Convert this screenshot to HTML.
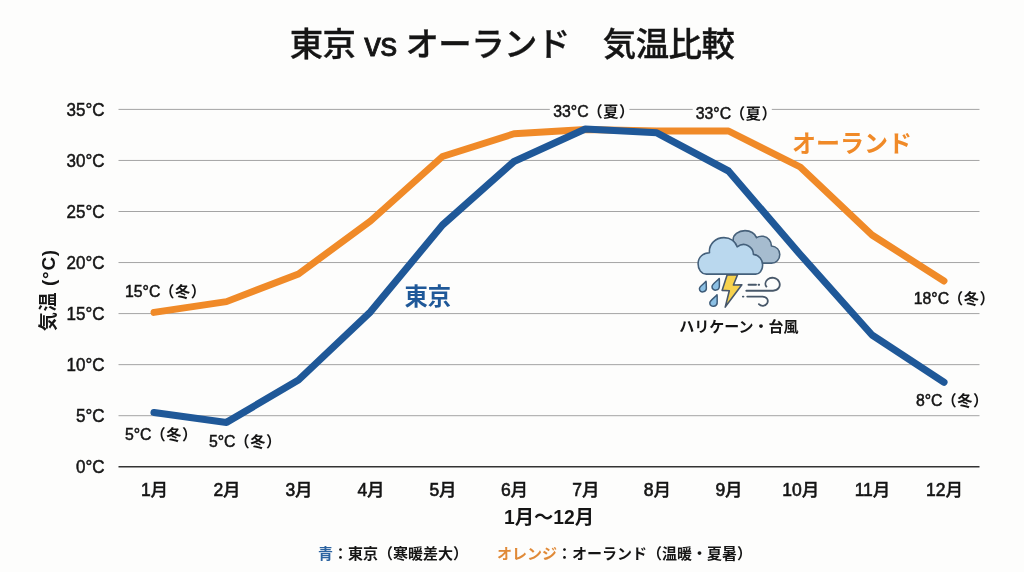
<!DOCTYPE html>
<html lang="ja"><head><meta charset="utf-8"><title>東京 vs オーランド 気温比較</title>
<style>
html,body{margin:0;padding:0;background:#fdfdfc;}
body{width:1024px;height:572px;overflow:hidden;font-family:"Liberation Sans","Noto Sans CJK JP",sans-serif;}
svg{display:block}
text{font-family:"Liberation Sans","Noto Sans CJK JP",sans-serif;fill:#151515}
.l{stroke:#151515;stroke-width:.5px}
.yl,.an{stroke:#151515;stroke-width:.15px}
.xl{stroke:#151515;stroke-width:.4px}
.xl .l{stroke-width:.6px}
.xl.b,.xl.b .l{stroke:none}
.t{font-size:33.4px;letter-spacing:-.5px;font-weight:500;stroke:#151515;stroke-width:.35px}
.t .l{stroke-width:.8px}
.yl{font-size:18.6px;font-weight:500;text-anchor:end}
.xl{font-size:17.5px;font-weight:500;text-anchor:middle}
.an{font-size:15.8px;font-weight:500}
.an .c{font-size:15.2px;font-weight:700;stroke:none;letter-spacing:.5px}
.b{font-weight:700}
.b .l{stroke:none;font-size:100%}
</style></head><body>
<svg width="1024" height="572" viewBox="0 0 1024 572">
<rect width="1024" height="572" fill="#fdfdfc"/>
<text class="t" x="512" y="56.4" text-anchor="middle">東京 <tspan class="l">vs</tspan> オーランド　気温比較</text>

<line x1="118.5" x2="979.5" y1="109.40" y2="109.40" stroke="#a4a4a4" stroke-width="1"/>
<line x1="118.5" x2="979.5" y1="160.45" y2="160.45" stroke="#a4a4a4" stroke-width="1"/>
<line x1="118.5" x2="979.5" y1="211.50" y2="211.50" stroke="#a4a4a4" stroke-width="1"/>
<line x1="118.5" x2="979.5" y1="262.55" y2="262.55" stroke="#a4a4a4" stroke-width="1"/>
<line x1="118.5" x2="979.5" y1="313.60" y2="313.60" stroke="#a4a4a4" stroke-width="1"/>
<line x1="118.5" x2="979.5" y1="364.65" y2="364.65" stroke="#a4a4a4" stroke-width="1"/>
<line x1="118.5" x2="979.5" y1="415.70" y2="415.70" stroke="#a4a4a4" stroke-width="1"/>
<line x1="118.5" x2="979.5" y1="466.75" y2="466.75" stroke="#333" stroke-width="1.3"/>
<rect x="549.8" y="100" width="79.6" height="20" fill="#fdfdfc"/>
<rect x="692.7" y="100" width="79.1" height="20" fill="#fdfdfc"/>
<text class="yl" transform="translate(104.6,116.00) scale(.915,1)"><tspan class="l">35°C</tspan></text>
<text class="yl" transform="translate(104.6,167.05) scale(.915,1)"><tspan class="l">30°C</tspan></text>
<text class="yl" transform="translate(104.6,218.10) scale(.915,1)"><tspan class="l">25°C</tspan></text>
<text class="yl" transform="translate(104.6,269.15) scale(.915,1)"><tspan class="l">20°C</tspan></text>
<text class="yl" transform="translate(104.6,320.20) scale(.915,1)"><tspan class="l">15°C</tspan></text>
<text class="yl" transform="translate(104.6,371.25) scale(.915,1)"><tspan class="l">10°C</tspan></text>
<text class="yl" transform="translate(104.6,422.30) scale(.915,1)"><tspan class="l">5°C</tspan></text>
<text class="yl" transform="translate(104.6,473.35) scale(.915,1)"><tspan class="l">0°C</tspan></text>
<text class="xl" x="154.5" y="495.7"><tspan class="l">1</tspan>月</text>
<text class="xl" x="227.0" y="495.7"><tspan class="l">2</tspan>月</text>
<text class="xl" x="299.0" y="495.7"><tspan class="l">3</tspan>月</text>
<text class="xl" x="371.0" y="495.7"><tspan class="l">4</tspan>月</text>
<text class="xl" x="443.0" y="495.7"><tspan class="l">5</tspan>月</text>
<text class="xl" x="514.5" y="495.7"><tspan class="l">6</tspan>月</text>
<text class="xl" x="585.8" y="495.7"><tspan class="l">7</tspan>月</text>
<text class="xl" x="657.3" y="495.7"><tspan class="l">8</tspan>月</text>
<text class="xl" x="729.0" y="495.7"><tspan class="l">9</tspan>月</text>
<text class="xl" x="800.7" y="495.7"><tspan class="l">10</tspan>月</text>
<text class="xl" x="872.5" y="495.7"><tspan class="l">11</tspan>月</text>
<text class="xl" x="944.5" y="495.7"><tspan class="l">12</tspan>月</text>
<text class="xl b" x="549" y="523.5" style="font-size:19.3px"><tspan class="l">1</tspan>月〜<tspan class="l">12</tspan>月</text>
<text class="b" transform="translate(54.8,290.2) rotate(-90)" text-anchor="middle" style="font-size:19px;letter-spacing:.7px">気温 (<tspan class="l">°C</tspan>)</text>
<polyline points="154,312.4 226.5,301.6 298.5,274 370.5,221 442.5,156.5 514,133.8 585.3,129.5 656.8,131 728.5,131 800.2,167 872,235 944,281" fill="none" stroke="#f08a28" stroke-width="6.9" stroke-linejoin="round" stroke-linecap="round"/>
<polyline points="154,412.5 226.5,422.4 298.5,380 370.5,311.8 442.5,225 514,161.5 585.3,129 656.8,132.8 728.5,171 800.2,254.5 872,335 944,382.2" fill="none" stroke="#1f5898" stroke-width="7.1" stroke-linejoin="round" stroke-linecap="round"/>
<text class="an" x="125" y="297"><tspan class="l">15°C</tspan><tspan class="c" dx="-1">（冬）</tspan></text>
<text class="an" x="125" y="440"><tspan class="l">5°C</tspan><tspan class="c" dx="-1">（冬）</tspan></text>
<text class="an" x="209" y="447"><tspan class="l">5°C</tspan><tspan class="c" dx="-1">（冬）</tspan></text>
<text class="an" x="553.3" y="117"><tspan class="l">33°C</tspan><tspan class="c" dx="-1">（夏）</tspan></text>
<text class="an" x="695.8" y="119"><tspan class="l">33°C</tspan><tspan class="c" dx="-1">（夏）</tspan></text>
<text class="an" x="913.8" y="304.3"><tspan class="l">18°C</tspan><tspan class="c" dx="-1">（冬）</tspan></text>
<text class="an" x="916" y="406.3"><tspan class="l">8°C</tspan><tspan class="c" dx="-1">（冬）</tspan></text>
<text class="b" x="404.5" y="305.3" style="font-size:23.3px;fill:#1f5898">東京</text>
<text class="b" x="792" y="151.5" style="font-size:24px;fill:#f08a28">オーランド</text>
<text class="b" x="739" y="332" text-anchor="middle" style="font-size:15px">ハリケーン・台風</text>
<text class="b" x="318" y="559" style="font-size:15px"><tspan fill="#2c63a0">青</tspan>：東京（寒暖差大）</text>
<text class="b" x="497" y="559" style="font-size:15px"><tspan fill="#e08a38">オレンジ</tspan>：オーランド（温暖・夏暑）</text>
<g transform="translate(690,225) scale(0.15723)" stroke-linecap="round" stroke-linejoin="round">
<!-- back cloud -->
<path d="M275 100 C270 60 310 35.8 350 35.8 C385 35.8 412 55 423 80.5 C436 72 450 70 466 72 C498 78 518 104 518 134 C550 138 571 160 571 188 C571 220 548 242.6 518 242.6 L440 242.6 L300 150 Z" fill="#a6bccf" stroke="#47617a" stroke-width="10"/>
<!-- front cloud -->
<path d="M104.5 312.5 C70 312.5 51.4 280 51.4 246 C51.4 205 85 176 124 176 C118 120 165 80.5 216 80.5 C256 80.5 288 104 300 139 C322 122 350 120 370 132 C392 144 403 164 403.5 187 C440 192 462 222 462 254 C462 290 440 312.5 417.5 312.5 Z" fill="#bad8ee" stroke="#44607b" stroke-width="10"/>
<!-- lightning -->
<path d="M236 318 L302 318 L276 382 L330 380 L224 522 L250 418 L204 416 Z" fill="#f7d24d" stroke="#46566a" stroke-width="10"/>
<!-- rain drops -->
<path d="M102 358 C88 376 60 390 60 406 C60 420 72 427 84 425 C100 423 106 410 104 396 C103 384 104 372 102 358 Z" fill="#8cc0e4" stroke="#3d5b78" stroke-width="9.5"/>
<path d="M186 340 C172 358 140 374 140 392 C140 408 154 416 166 414 C182 412 188 398 187 384 C186 370 188 356 186 340 Z" fill="#8cc0e4" stroke="#3d5b78" stroke-width="9.5"/>
<path d="M172 444 C158 462 126 478 126 496 C126 512 140 519 152 517 C168 515 174 501 173 487 C172 474 174 460 172 444 Z" fill="#8cc0e4" stroke="#3d5b78" stroke-width="9.5"/>
<!-- wind -->
<g fill="none" stroke="#485869" stroke-width="11.5">
<path d="M372 380 L420 380"/><path d="M436 380 L440 380"/>
<path d="M358 418 L528 418 C562 418 580 388 566 360 C552 334 516 328 494 346 C478 360 476 380 486 392"/>
<path d="M336 455 L340 455"/>
<path d="M364 455 L460 455 C490 455 502 480 490 500 C478 518 452 518 438 503"/>
</g>
</g>
</svg></body></html>
